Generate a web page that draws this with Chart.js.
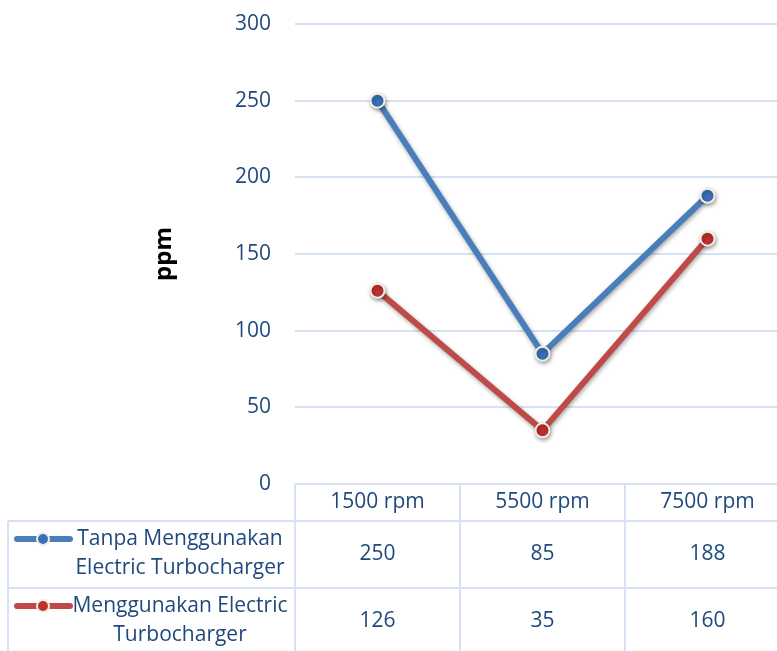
<!DOCTYPE html>
<html>
<head>
<meta charset="utf-8">
<script src="https://cdn.jsdelivr.net/npm/chart.js@4"></script>
<style>
  body { margin: 0; background: #fff; overflow: hidden; }
  .wrap { position: relative; width: 800px; height: 660px; }
</style>
</head>
<body>
<div class="wrap"><canvas id="chart"></canvas></div>
<script>
// data
const categories = ["1500 rpm", "5500 rpm", "7500 rpm"];
const tanpaETC = [250, 85, 188];
const denganETC = [126, 35, 160];
const seriesNames = [
  ["Tanpa Menggunakan", "Electric Turbocharger"],
  ["Menggunakan Electric", "Turbocharger"]
];
const yTicks = [0, 50, 100, 150, 200, 250, 300];

const textColor = "#1f497d";
const gridColor = "#d6e2f3";
const blue = "#4a7ebb", blueDot = "#3a70b8";
const red = "#be4b48", redDot = "#c0302e";
const dotBorder = "#f0ede2";
const fontFam = "'Open Sans', sans-serif";

// shadow under lines and markers, like the office chart
const shadowPlugin = {
  id: "shadow",
  beforeDatasetsDraw(chart) {
    const c = chart.ctx;
    c.save();
    c.shadowColor = "rgba(0,0,0,0.35)";
    c.shadowBlur = 4;
    c.shadowOffsetX = 1;
    c.shadowOffsetY = 2;
  },
  afterDatasetsDraw(chart) {
    chart.ctx.restore();
  }
};

// data table under the plot, columns follow the x scale
const tablePlugin = {
  id: "table",
  afterDraw(chart) {
    const c = chart.ctx;
    const x = chart.scales.x;
    const area = chart.chartArea;
    const step = x.getPixelForValue(1) - x.getPixelForValue(0);
    const top = area.bottom;
    const rows = [top, top + 37, top + 104, top + 171];
    const left = 8;
    const colLeft = x.getPixelForValue(0) - step / 2;
    const colRight = x.getPixelForValue(categories.length - 1) + step / 2;

    c.save();
    c.strokeStyle = gridColor;
    c.lineWidth = 2;
    c.beginPath();
    // header row top line
    c.moveTo(colLeft, rows[0]); c.lineTo(colRight, rows[0]);
    for (let r = 1; r < rows.length; r++) {
      c.moveTo(left, rows[r]); c.lineTo(colRight, rows[r]);
    }
    // vertical lines
    c.moveTo(left, rows[1]); c.lineTo(left, rows[3]);
    for (let i = 0; i <= categories.length; i++) {
      const vx = colLeft + i * step;
      c.moveTo(vx, rows[0]); c.lineTo(vx, rows[3]);
    }
    c.stroke();

    c.fillStyle = textColor;
    c.font = "21px " + fontFam;
    c.textAlign = "center";
    c.textBaseline = "middle";
    categories.forEach((cat, i) => {
      c.fillText(cat, x.getPixelForValue(i), (rows[0] + rows[1]) / 2);
    });
    const sets = chart.data.datasets;
    sets.forEach((ds, s) => {
      const rowMid = (rows[s + 1] + rows[s + 2]) / 2;
      ds.data.forEach((v, i) => {
        c.fillText(String(v), x.getPixelForValue(i), rowMid);
      });
      // legend key
      const ky = rows[s + 1] + 18;
      c.strokeStyle = ds.borderColor;
      c.lineWidth = 6;
      c.lineCap = "round";
      c.beginPath();
      c.moveTo(17, ky); c.lineTo(70, ky);
      c.stroke();
      c.beginPath();
      c.arc(43, ky, 6, 0, Math.PI * 2);
      c.fillStyle = ds.pointBackgroundColor;
      c.fill();
      c.lineWidth = 2;
      c.strokeStyle = dotBorder;
      c.stroke();
      c.fillStyle = textColor;
      const names = seriesNames[s];
      c.fillText(names[0], 180, ky);
      c.fillText(names[1], 180, ky + 29);
    });
    c.restore();
  }
};

new Chart(document.getElementById("chart"), {
  type: "line",
  data: {
    labels: categories,
    datasets: [
      {
        label: seriesNames[0].join(" "),
        data: tanpaETC,
        borderColor: blue,
        borderWidth: 6,
        pointBackgroundColor: blueDot,
        pointBorderColor: dotBorder,
        pointBorderWidth: 2,
        pointRadius: 7,
        tension: 0
      },
      {
        label: seriesNames[1].join(" "),
        data: denganETC,
        borderColor: red,
        borderWidth: 6,
        pointBackgroundColor: redDot,
        pointBorderColor: dotBorder,
        pointBorderWidth: 2,
        pointRadius: 7,
        tension: 0
      }
    ]
  },
  options: {
    responsive: true,
    maintainAspectRatio: false,
    animation: false,
    layout: { padding: { top: 24, right: 10, left: 0, bottom: 176 } },
    plugins: {
      legend: { display: false },
      tooltip: { enabled: false }
    },
    scales: {
      x: {
        display: false,
        offset: true
      },
      y: {
        min: 0,
        max: 300,
        afterBuildTicks(scale) {
          scale.ticks = yTicks.map(v => ({ value: v }));
        },
        afterFit(scale) { scale.width = 295; },
        border: { display: false },
        grid: {
          color: gridColor,
          lineWidth: 2,
          drawTicks: true,
          tickLength: 24,
          tickColor: "rgba(0,0,0,0)"
        },
        ticks: {
          color: textColor,
          font: { family: fontFam, size: 21 },
          padding: 0
        },
        title: {
          display: true,
          text: "ppm",
          color: "#000",
          font: { family: fontFam, size: 24, weight: "bold" },
          padding: { top: 150, bottom: 0 }
        }
      }
    }
  },
  plugins: [shadowPlugin, tablePlugin]
});
</script>
</body>
</html>
